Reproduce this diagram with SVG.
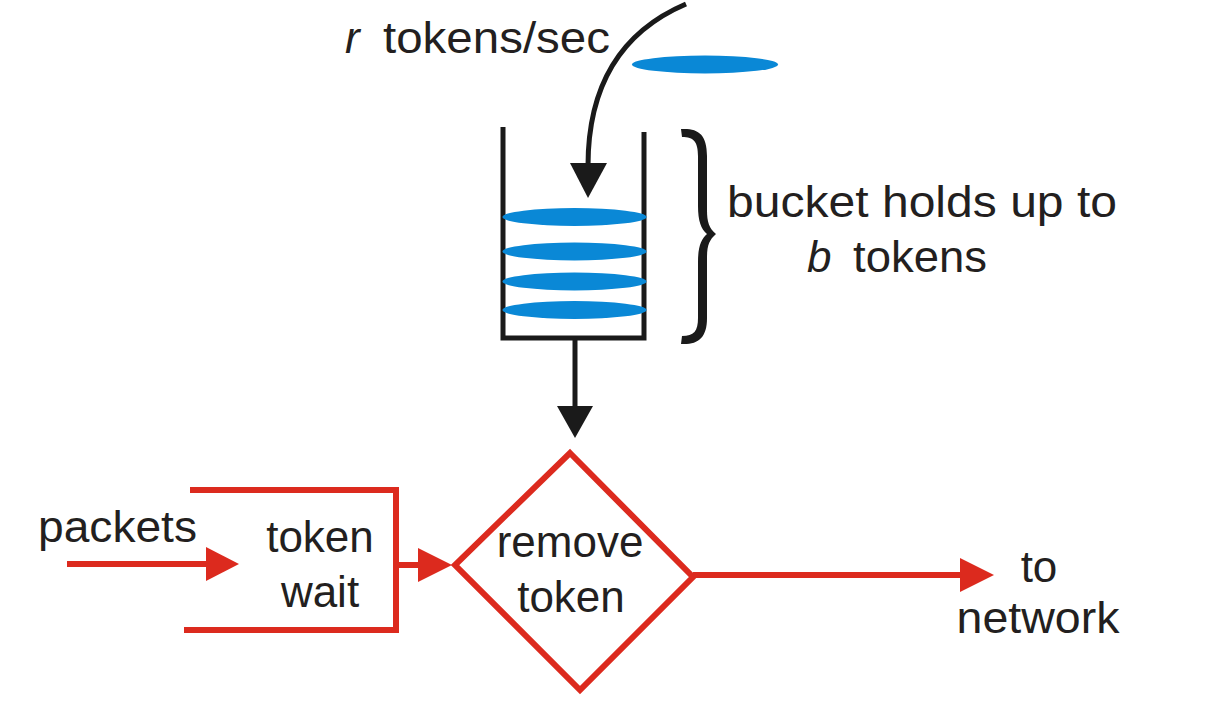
<svg xmlns="http://www.w3.org/2000/svg" width="1208" height="707" viewBox="0 0 1208 707">
  <style>
    .txt { font-family: "Liberation Sans", Arial, sans-serif; font-size: 44px; fill: #231f20; }
    .it { font-style: italic; }
    .red { fill: none; stroke: #dc2a1e; stroke-width: 6; }
    .redfill { fill: #dc2a1e; stroke: none; }
    .blk { fill: none; stroke: #1a1a1a; stroke-width: 5; }
    .blkfill { fill: #1a1a1a; stroke: none; }
    .tok { fill: #0a88d6; stroke: none; }
  </style>
  <rect width="1208" height="707" fill="#ffffff"/>

  <g id="rate-label">
    <text class="txt it" x="345" y="53">r</text>
    <text class="txt" x="383" y="53" textLength="227" lengthAdjust="spacingAndGlyphs">tokens/sec</text>
  </g>

  <g id="incoming-token">
    <ellipse class="tok" cx="705" cy="64.5" rx="73" ry="9"/>
  </g>

  <g id="bucket">
    <path class="blk" d="M503 127 V338 H644 V132"/>
    <ellipse class="tok" cx="574.5" cy="217" rx="72" ry="9"/>
    <ellipse class="tok" cx="574.5" cy="251.5" rx="72" ry="9"/>
    <ellipse class="tok" cx="574.5" cy="281.5" rx="72" ry="9"/>
    <ellipse class="tok" cx="574.5" cy="310" rx="72" ry="9"/>
  </g>

  <g id="bucket-label">
    <path fill="#1a1a1a" stroke="none" d="M681 129 C 698 128, 707 134, 707 156 V 210 C 707 222, 709 228, 716 234 C 709 240, 707 246, 707 258 V 318 C 707 338, 698 345, 681 344 L 682 336 C 694 336, 698 331, 698 318 V 262 C 698 247, 701 239, 707 234 C 701 229, 698 221, 698 206 V 156 C 698 142, 694 137, 682 137 Z"/>
    <text class="txt" x="727" y="217" textLength="390" lengthAdjust="spacingAndGlyphs">bucket holds up to</text>
    <text class="txt it" x="807" y="272">b</text>
    <text class="txt" x="853" y="272" textLength="134" lengthAdjust="spacingAndGlyphs">tokens</text>
  </g>

  <g id="packets-label">
    <text class="txt" x="38" y="542" textLength="159" lengthAdjust="spacingAndGlyphs">packets</text>
  </g>

  <g id="token-wait">
    <path class="red" d="M190 490 H396 V630 H184"/>
    <text class="txt" x="320" y="552" text-anchor="middle">token</text>
    <text class="txt" x="320" y="607" text-anchor="middle">wait</text>
  </g>

  <g id="remove-token">
    <polygon class="red" points="570,453 693,577 580,690 455,565" stroke-linejoin="miter"/>
    <text class="txt" x="570" y="557" text-anchor="middle">remove</text>
    <text class="txt" x="571" y="612" text-anchor="middle">token</text>
  </g>

  <g id="to-network">
    <text class="txt" x="1039" y="582" text-anchor="middle">to</text>
    <text class="txt" x="1038" y="633" text-anchor="middle" textLength="163" lengthAdjust="spacingAndGlyphs">network</text>
  </g>

  <g id="connectors">
    <path class="blk" stroke-width="5.5" d="M686 4 C 625 30, 588 80, 588 166"/>
    <polygon class="blkfill" points="570,163 607,163 588,198"/>
    <line class="blk" x1="575" y1="338" x2="575" y2="410"/>
    <polygon class="blkfill" points="557,406 593,406 575,438"/>
    <line class="red" x1="67" y1="564" x2="210" y2="564"/>
    <polygon class="redfill" points="206,547 239,564 206,581"/>
    <line class="red" x1="396" y1="565" x2="420" y2="565"/>
    <polygon class="redfill" points="418,548 452,565 418,582"/>
    <line class="red" x1="693" y1="575" x2="962" y2="575"/>
    <polygon class="redfill" points="960,558 994,575 960,592"/>
  </g>
</svg>
